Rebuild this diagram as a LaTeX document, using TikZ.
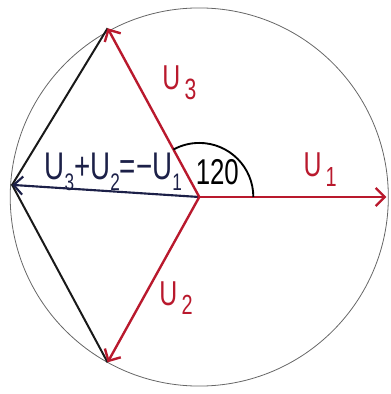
\documentclass[tikz,border=0pt]{standalone}
\usepackage{fontspec}
\setmainfont{Liberation Sans}
\usepackage{xcolor}
\usepackage{tikz}
\usetikzlibrary{arrows.meta,calc}
\definecolor{phasered}{RGB}{185,25,45}
\definecolor{sumnavy}{RGB}{28,32,72}
\newcommand{\ix}[2][0.62]{\raisebox{-0.28em}{\scalebox{#1}{#2}}}
\newcommand{\narrow}[1]{\scalebox{0.72}[1]{#1}}
\tikzset{
    phasor/.style={phasered,line width=1.8pt,-{Straight Barb[length=2.4mm,width=4.8mm]}},
    sumvec/.style={sumnavy,line width=1.6pt,-{Straight Barb[length=2.4mm,width=4.8mm]}},
    side/.style={black!90,line width=1.5pt},
    lbl/.style={font=\fontsize{26}{30}\selectfont,inner sep=0pt,anchor=base west}
}
\begin{document}
\begin{tikzpicture}
    \useasboundingbox (-5.27,-5.21) rectangle (5.05,5.21);
    \coordinate (O) at (0,0);
    \coordinate (U1) at (0:4.95);
    \coordinate (U3) at (118.5:5.08);
    \coordinate (U2) at (241:5.0);
    \coordinate (S) at (176.3:4.96);
    \draw[black!60,line width=0.6pt] (O) circle (5.0);
    % triangle sides
    \draw[side] (U3) -- (S) -- (U2);
    \draw[sumvec] (O) -- (S);
    \draw[phasor] (O) -- (U1);
    \draw[phasor] (O) -- (U3);
    \draw[phasor] (O) -- (U2);
    % angle mark
    \draw[line width=1.4pt] (O) ++(0:1.43) arc[start angle=0,end angle=118.5,radius=1.43];
    \node[lbl,phasered] (l1) at (2.75,0.53) {\narrow{U\,\ix[0.8]{1}}};
    \node[lbl,phasered] (l3) at (-0.98,2.83) {\narrow{U\,\ix[0.85]{3}}};
    \node[lbl,phasered] (l2) at (-1.06,-2.86) {\narrow{U\,\ix[0.8]{2}}};
    \node[lbl,font=\fontsize{27}{30}\selectfont] (ang) at (-0.1,0.32) {\narrow{120}};
    \node[lbl,font=\fontsize{29}{32}\selectfont,sumnavy] (sum) at (-4.1,0.45) {\narrow{U\ix{3}+U\ix{2}=−U\ix{1}}};
\end{tikzpicture}
\end{document}
